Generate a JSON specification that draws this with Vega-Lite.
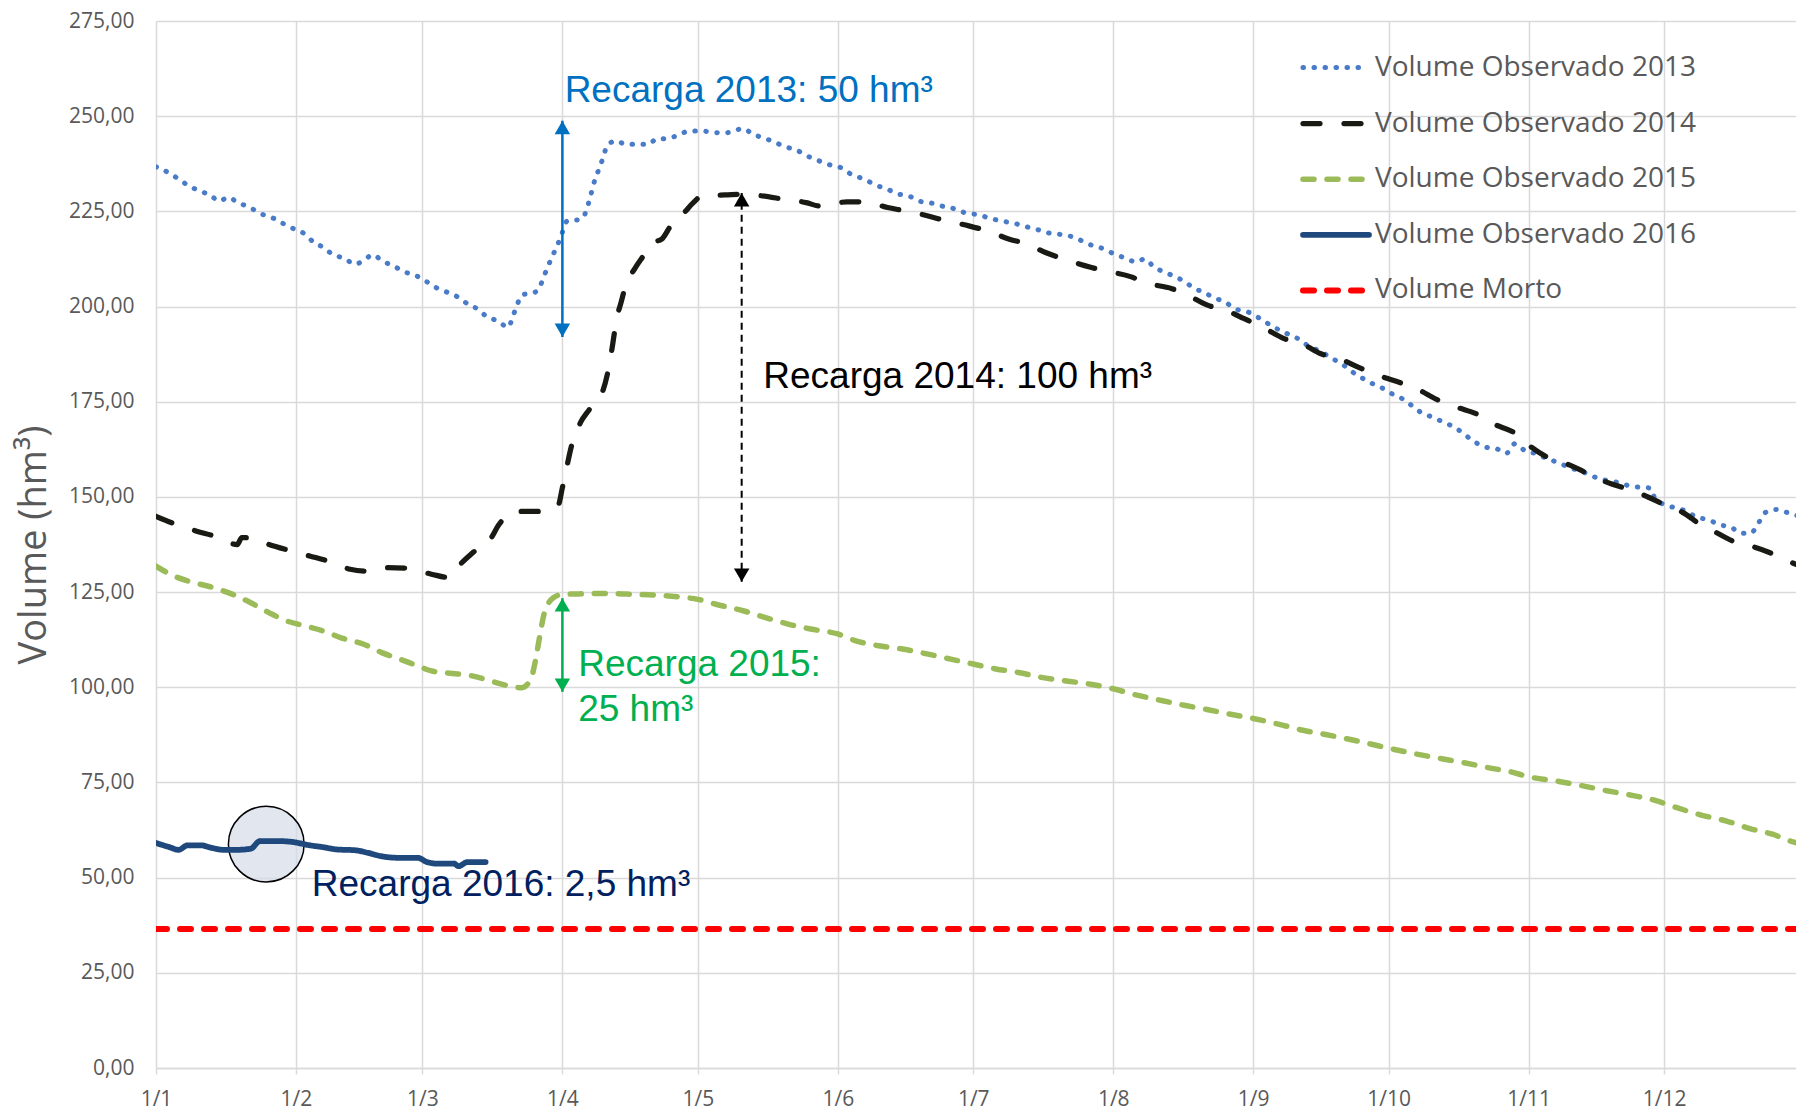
{
  "$schema": "https://vega.github.io/schema/vega-lite/v6.json",
  "width": 1640,
  "height": 1047,
  "autosize": {"type": "none"},
  "padding": {"left": 156, "top": 21, "right": 0, "bottom": 44},
  "background": "white",
  "config": {
    "view": {"stroke": null},
    "axis": {
      "gridColor": "#D9D9D9", "gridWidth": 1.5,
      "labelFont": "Open Sans", "labelFontSize": 21, "labelColor": "#595959",
      "titleFont": "Open Sans", "titleColor": "#595959", "titleFontWeight": "normal",
      "domainColor": "#D9D9D9", "domainWidth": 1.5, "tickColor": "#D9D9D9", "tickWidth": 1.5
    }
  },
  "datasets": {
    "series": [
      {"s":"Volume Observado 2013","d":"2015-01-01","v":236.7},
      {"s":"Volume Observado 2013","d":"2015-01-04","v":235.0},
      {"s":"Volume Observado 2013","d":"2015-01-06","v":233.5},
      {"s":"Volume Observado 2013","d":"2015-01-08","v":231.9},
      {"s":"Volume Observado 2013","d":"2015-01-11","v":230.2},
      {"s":"Volume Observado 2013","d":"2015-01-13","v":229.3},
      {"s":"Volume Observado 2013","d":"2015-01-15","v":227.7},
      {"s":"Volume Observado 2013","d":"2015-01-17","v":228.7},
      {"s":"Volume Observado 2013","d":"2015-01-19","v":227.4},
      {"s":"Volume Observado 2013","d":"2015-01-22","v":225.9},
      {"s":"Volume Observado 2013","d":"2015-01-24","v":224.5},
      {"s":"Volume Observado 2013","d":"2015-01-27","v":223.2},
      {"s":"Volume Observado 2013","d":"2015-01-29","v":221.9},
      {"s":"Volume Observado 2013","d":"2015-01-31","v":220.7},
      {"s":"Volume Observado 2013","d":"2015-02-03","v":219.0},
      {"s":"Volume Observado 2013","d":"2015-02-05","v":216.8},
      {"s":"Volume Observado 2013","d":"2015-02-07","v":215.6},
      {"s":"Volume Observado 2013","d":"2015-02-09","v":213.8},
      {"s":"Volume Observado 2013","d":"2015-02-12","v":212.5},
      {"s":"Volume Observado 2013","d":"2015-02-14","v":211.1},
      {"s":"Volume Observado 2013","d":"2015-02-16","v":212.1},
      {"s":"Volume Observado 2013","d":"2015-02-18","v":213.6},
      {"s":"Volume Observado 2013","d":"2015-02-20","v":212.1},
      {"s":"Volume Observado 2013","d":"2015-02-23","v":210.4},
      {"s":"Volume Observado 2013","d":"2015-02-25","v":209.1},
      {"s":"Volume Observado 2013","d":"2015-02-27","v":208.4},
      {"s":"Volume Observado 2013","d":"2015-03-02","v":206.5},
      {"s":"Volume Observado 2013","d":"2015-03-04","v":205.0},
      {"s":"Volume Observado 2013","d":"2015-03-06","v":204.0},
      {"s":"Volume Observado 2013","d":"2015-03-09","v":202.4},
      {"s":"Volume Observado 2013","d":"2015-03-11","v":200.7},
      {"s":"Volume Observado 2013","d":"2015-03-13","v":199.5},
      {"s":"Volume Observado 2013","d":"2015-03-15","v":197.6},
      {"s":"Volume Observado 2013","d":"2015-03-18","v":196.0},
      {"s":"Volume Observado 2013","d":"2015-03-20","v":194.5},
      {"s":"Volume Observado 2013","d":"2015-03-21","v":197.3},
      {"s":"Volume Observado 2013","d":"2015-03-22","v":200.5},
      {"s":"Volume Observado 2013","d":"2015-03-23","v":203.0},
      {"s":"Volume Observado 2013","d":"2015-03-26","v":203.8},
      {"s":"Volume Observado 2013","d":"2015-03-27","v":205.2},
      {"s":"Volume Observado 2013","d":"2015-03-28","v":208.2},
      {"s":"Volume Observado 2013","d":"2015-03-29","v":211.1},
      {"s":"Volume Observado 2013","d":"2015-03-30","v":213.8},
      {"s":"Volume Observado 2013","d":"2015-03-31","v":216.4},
      {"s":"Volume Observado 2013","d":"2015-04-01","v":219.5},
      {"s":"Volume Observado 2013","d":"2015-04-02","v":222.4},
      {"s":"Volume Observado 2013","d":"2015-04-05","v":222.9},
      {"s":"Volume Observado 2013","d":"2015-04-06","v":224.3},
      {"s":"Volume Observado 2013","d":"2015-04-07","v":228.0},
      {"s":"Volume Observado 2013","d":"2015-04-08","v":232.5},
      {"s":"Volume Observado 2013","d":"2015-04-09","v":235.8},
      {"s":"Volume Observado 2013","d":"2015-04-10","v":239.0},
      {"s":"Volume Observado 2013","d":"2015-04-11","v":242.5},
      {"s":"Volume Observado 2013","d":"2015-04-13","v":243.5},
      {"s":"Volume Observado 2013","d":"2015-04-15","v":242.6},
      {"s":"Volume Observado 2013","d":"2015-04-18","v":242.6},
      {"s":"Volume Observado 2013","d":"2015-04-20","v":242.6},
      {"s":"Volume Observado 2013","d":"2015-04-22","v":244.1},
      {"s":"Volume Observado 2013","d":"2015-04-24","v":244.1},
      {"s":"Volume Observado 2013","d":"2015-04-27","v":245.2},
      {"s":"Volume Observado 2013","d":"2015-04-29","v":246.1},
      {"s":"Volume Observado 2013","d":"2015-05-02","v":246.1},
      {"s":"Volume Observado 2013","d":"2015-05-04","v":245.8},
      {"s":"Volume Observado 2013","d":"2015-05-07","v":245.6},
      {"s":"Volume Observado 2013","d":"2015-05-09","v":246.1},
      {"s":"Volume Observado 2013","d":"2015-05-11","v":246.8},
      {"s":"Volume Observado 2013","d":"2015-05-13","v":245.4},
      {"s":"Volume Observado 2013","d":"2015-05-16","v":244.1},
      {"s":"Volume Observado 2013","d":"2015-05-18","v":243.2},
      {"s":"Volume Observado 2013","d":"2015-05-20","v":242.1},
      {"s":"Volume Observado 2013","d":"2015-05-23","v":241.0},
      {"s":"Volume Observado 2013","d":"2015-05-25","v":239.7},
      {"s":"Volume Observado 2013","d":"2015-05-28","v":238.2},
      {"s":"Volume Observado 2013","d":"2015-05-30","v":237.3},
      {"s":"Volume Observado 2013","d":"2015-06-02","v":236.3},
      {"s":"Volume Observado 2013","d":"2015-06-04","v":234.7},
      {"s":"Volume Observado 2013","d":"2015-06-07","v":233.4},
      {"s":"Volume Observado 2013","d":"2015-06-09","v":232.1},
      {"s":"Volume Observado 2013","d":"2015-06-12","v":230.8},
      {"s":"Volume Observado 2013","d":"2015-06-14","v":229.7},
      {"s":"Volume Observado 2013","d":"2015-06-17","v":228.9},
      {"s":"Volume Observado 2013","d":"2015-06-19","v":227.7},
      {"s":"Volume Observado 2013","d":"2015-06-22","v":227.1},
      {"s":"Volume Observado 2013","d":"2015-06-24","v":226.4},
      {"s":"Volume Observado 2013","d":"2015-06-27","v":225.6},
      {"s":"Volume Observado 2013","d":"2015-06-29","v":224.7},
      {"s":"Volume Observado 2013","d":"2015-07-02","v":224.1},
      {"s":"Volume Observado 2013","d":"2015-07-05","v":223.1},
      {"s":"Volume Observado 2013","d":"2015-07-07","v":222.5},
      {"s":"Volume Observado 2013","d":"2015-07-10","v":221.9},
      {"s":"Volume Observado 2013","d":"2015-07-12","v":221.2},
      {"s":"Volume Observado 2013","d":"2015-07-15","v":220.3},
      {"s":"Volume Observado 2013","d":"2015-07-17","v":219.5},
      {"s":"Volume Observado 2013","d":"2015-07-20","v":219.0},
      {"s":"Volume Observado 2013","d":"2015-07-23","v":218.3},
      {"s":"Volume Observado 2013","d":"2015-07-25","v":217.3},
      {"s":"Volume Observado 2013","d":"2015-07-27","v":216.2},
      {"s":"Volume Observado 2013","d":"2015-07-30","v":215.1},
      {"s":"Volume Observado 2013","d":"2015-08-01","v":213.9},
      {"s":"Volume Observado 2013","d":"2015-08-04","v":212.6},
      {"s":"Volume Observado 2013","d":"2015-08-06","v":211.7},
      {"s":"Volume Observado 2013","d":"2015-08-08","v":212.5},
      {"s":"Volume Observado 2013","d":"2015-08-10","v":210.4},
      {"s":"Volume Observado 2013","d":"2015-08-12","v":209.2},
      {"s":"Volume Observado 2013","d":"2015-08-15","v":207.7},
      {"s":"Volume Observado 2013","d":"2015-08-17","v":206.4},
      {"s":"Volume Observado 2013","d":"2015-08-19","v":204.7},
      {"s":"Volume Observado 2013","d":"2015-08-21","v":203.8},
      {"s":"Volume Observado 2013","d":"2015-08-23","v":202.5},
      {"s":"Volume Observado 2013","d":"2015-08-26","v":201.0},
      {"s":"Volume Observado 2013","d":"2015-08-28","v":199.4},
      {"s":"Volume Observado 2013","d":"2015-08-31","v":198.5},
      {"s":"Volume Observado 2013","d":"2015-09-02","v":197.2},
      {"s":"Volume Observado 2013","d":"2015-09-04","v":195.7},
      {"s":"Volume Observado 2013","d":"2015-09-07","v":193.7},
      {"s":"Volume Observado 2013","d":"2015-09-09","v":192.6},
      {"s":"Volume Observado 2013","d":"2015-09-11","v":191.5},
      {"s":"Volume Observado 2013","d":"2015-09-13","v":189.8},
      {"s":"Volume Observado 2013","d":"2015-09-16","v":188.1},
      {"s":"Volume Observado 2013","d":"2015-09-18","v":186.7},
      {"s":"Volume Observado 2013","d":"2015-09-21","v":184.6},
      {"s":"Volume Observado 2013","d":"2015-09-23","v":182.8},
      {"s":"Volume Observado 2013","d":"2015-09-25","v":181.3},
      {"s":"Volume Observado 2013","d":"2015-09-27","v":180.0},
      {"s":"Volume Observado 2013","d":"2015-09-30","v":178.3},
      {"s":"Volume Observado 2013","d":"2015-10-02","v":176.9},
      {"s":"Volume Observado 2013","d":"2015-10-04","v":175.8},
      {"s":"Volume Observado 2013","d":"2015-10-06","v":174.1},
      {"s":"Volume Observado 2013","d":"2015-10-08","v":172.3},
      {"s":"Volume Observado 2013","d":"2015-10-11","v":170.8},
      {"s":"Volume Observado 2013","d":"2015-10-13","v":169.7},
      {"s":"Volume Observado 2013","d":"2015-10-16","v":168.0},
      {"s":"Volume Observado 2013","d":"2015-10-18","v":166.2},
      {"s":"Volume Observado 2013","d":"2015-10-20","v":164.5},
      {"s":"Volume Observado 2013","d":"2015-10-22","v":163.2},
      {"s":"Volume Observado 2013","d":"2015-10-25","v":162.6},
      {"s":"Volume Observado 2013","d":"2015-10-27","v":161.4},
      {"s":"Volume Observado 2013","d":"2015-10-29","v":164.0},
      {"s":"Volume Observado 2013","d":"2015-10-31","v":162.3},
      {"s":"Volume Observado 2013","d":"2015-11-03","v":161.2},
      {"s":"Volume Observado 2013","d":"2015-11-05","v":160.1},
      {"s":"Volume Observado 2013","d":"2015-11-08","v":158.8},
      {"s":"Volume Observado 2013","d":"2015-11-10","v":157.7},
      {"s":"Volume Observado 2013","d":"2015-11-13","v":156.6},
      {"s":"Volume Observado 2013","d":"2015-11-15","v":155.5},
      {"s":"Volume Observado 2013","d":"2015-11-18","v":154.4},
      {"s":"Volume Observado 2013","d":"2015-11-20","v":154.0},
      {"s":"Volume Observado 2013","d":"2015-11-23","v":153.0},
      {"s":"Volume Observado 2013","d":"2015-11-25","v":152.6},
      {"s":"Volume Observado 2013","d":"2015-11-28","v":152.3},
      {"s":"Volume Observado 2013","d":"2015-11-29","v":149.5},
      {"s":"Volume Observado 2013","d":"2015-12-01","v":148.0},
      {"s":"Volume Observado 2013","d":"2015-12-04","v":147.0},
      {"s":"Volume Observado 2013","d":"2015-12-06","v":146.2},
      {"s":"Volume Observado 2013","d":"2015-12-08","v":144.8},
      {"s":"Volume Observado 2013","d":"2015-12-11","v":143.9},
      {"s":"Volume Observado 2013","d":"2015-12-13","v":142.8},
      {"s":"Volume Observado 2013","d":"2015-12-16","v":141.9},
      {"s":"Volume Observado 2013","d":"2015-12-18","v":140.5},
      {"s":"Volume Observado 2013","d":"2015-12-20","v":140.4},
      {"s":"Volume Observado 2013","d":"2015-12-22","v":143.3},
      {"s":"Volume Observado 2013","d":"2015-12-23","v":145.6},
      {"s":"Volume Observado 2013","d":"2015-12-26","v":146.7},
      {"s":"Volume Observado 2013","d":"2015-12-28","v":146.0},
      {"s":"Volume Observado 2013","d":"2015-12-30","v":145.2},
      {"s":"Volume Observado 2013","d":"2015-12-31","v":145.0},

      {"s":"Volume Observado 2014","d":"2015-01-01","v":144.9},
      {"s":"Volume Observado 2014","d":"2015-01-05","v":143.0},
      {"s":"Volume Observado 2014","d":"2015-01-10","v":141.0},
      {"s":"Volume Observado 2014","d":"2015-01-14","v":139.7},
      {"s":"Volume Observado 2014","d":"2015-01-19","v":137.5},
      {"s":"Volume Observado 2014","d":"2015-01-20","v":139.3},
      {"s":"Volume Observado 2014","d":"2015-01-22","v":139.3},
      {"s":"Volume Observado 2014","d":"2015-01-26","v":137.5},
      {"s":"Volume Observado 2014","d":"2015-01-31","v":135.8},
      {"s":"Volume Observado 2014","d":"2015-02-04","v":134.5},
      {"s":"Volume Observado 2014","d":"2015-02-08","v":133.2},
      {"s":"Volume Observado 2014","d":"2015-02-13","v":131.0},
      {"s":"Volume Observado 2014","d":"2015-02-17","v":130.5},
      {"s":"Volume Observado 2014","d":"2015-02-21","v":131.4},
      {"s":"Volume Observado 2014","d":"2015-02-26","v":131.2},
      {"s":"Volume Observado 2014","d":"2015-03-03","v":129.7},
      {"s":"Volume Observado 2014","d":"2015-03-07","v":128.8},
      {"s":"Volume Observado 2014","d":"2015-03-09","v":131.8},
      {"s":"Volume Observado 2014","d":"2015-03-12","v":135.2},
      {"s":"Volume Observado 2014","d":"2015-03-16","v":138.8},
      {"s":"Volume Observado 2014","d":"2015-03-18","v":142.8},
      {"s":"Volume Observado 2014","d":"2015-03-22","v":146.2},
      {"s":"Volume Observado 2014","d":"2015-03-27","v":146.2},
      {"s":"Volume Observado 2014","d":"2015-03-31","v":147.6},
      {"s":"Volume Observado 2014","d":"2015-04-01","v":152.4},
      {"s":"Volume Observado 2014","d":"2015-04-02","v":158.0},
      {"s":"Volume Observado 2014","d":"2015-04-03","v":163.3},
      {"s":"Volume Observado 2014","d":"2015-04-05","v":169.5},
      {"s":"Volume Observado 2014","d":"2015-04-07","v":173.0},
      {"s":"Volume Observado 2014","d":"2015-04-10","v":178.0},
      {"s":"Volume Observado 2014","d":"2015-04-11","v":182.4},
      {"s":"Volume Observado 2014","d":"2015-04-12","v":189.0},
      {"s":"Volume Observado 2014","d":"2015-04-13","v":196.7},
      {"s":"Volume Observado 2014","d":"2015-04-14","v":201.1},
      {"s":"Volume Observado 2014","d":"2015-04-15","v":205.5},
      {"s":"Volume Observado 2014","d":"2015-04-17","v":209.9},
      {"s":"Volume Observado 2014","d":"2015-04-19","v":213.4},
      {"s":"Volume Observado 2014","d":"2015-04-21","v":216.8},
      {"s":"Volume Observado 2014","d":"2015-04-23","v":217.7},
      {"s":"Volume Observado 2014","d":"2015-04-25","v":221.2},
      {"s":"Volume Observado 2014","d":"2015-04-28","v":224.7},
      {"s":"Volume Observado 2014","d":"2015-04-30","v":227.3},
      {"s":"Volume Observado 2014","d":"2015-05-02","v":229.1},
      {"s":"Volume Observado 2014","d":"2015-05-07","v":229.3},
      {"s":"Volume Observado 2014","d":"2015-05-11","v":229.5},
      {"s":"Volume Observado 2014","d":"2015-05-15","v":229.1},
      {"s":"Volume Observado 2014","d":"2015-05-20","v":228.2},
      {"s":"Volume Observado 2014","d":"2015-05-25","v":227.3},
      {"s":"Volume Observado 2014","d":"2015-05-28","v":226.4},
      {"s":"Volume Observado 2014","d":"2015-06-03","v":227.5},
      {"s":"Volume Observado 2014","d":"2015-06-07","v":227.5},
      {"s":"Volume Observado 2014","d":"2015-06-12","v":226.0},
      {"s":"Volume Observado 2014","d":"2015-06-16","v":225.1},
      {"s":"Volume Observado 2014","d":"2015-06-21","v":223.8},
      {"s":"Volume Observado 2014","d":"2015-06-25","v":222.5},
      {"s":"Volume Observado 2014","d":"2015-06-30","v":221.2},
      {"s":"Volume Observado 2014","d":"2015-07-04","v":219.9},
      {"s":"Volume Observado 2014","d":"2015-07-09","v":217.7},
      {"s":"Volume Observado 2014","d":"2015-07-13","v":216.4},
      {"s":"Volume Observado 2014","d":"2015-07-17","v":214.2},
      {"s":"Volume Observado 2014","d":"2015-07-21","v":212.5},
      {"s":"Volume Observado 2014","d":"2015-07-27","v":210.3},
      {"s":"Volume Observado 2014","d":"2015-07-30","v":209.4},
      {"s":"Volume Observado 2014","d":"2015-08-05","v":207.8},
      {"s":"Volume Observado 2014","d":"2015-08-08","v":206.3},
      {"s":"Volume Observado 2014","d":"2015-08-14","v":204.7},
      {"s":"Volume Observado 2014","d":"2015-08-17","v":203.3},
      {"s":"Volume Observado 2014","d":"2015-08-22","v":200.3},
      {"s":"Volume Observado 2014","d":"2015-08-26","v":199.0},
      {"s":"Volume Observado 2014","d":"2015-08-30","v":196.8},
      {"s":"Volume Observado 2014","d":"2015-09-03","v":194.6},
      {"s":"Volume Observado 2014","d":"2015-09-08","v":191.5},
      {"s":"Volume Observado 2014","d":"2015-09-12","v":190.1},
      {"s":"Volume Observado 2014","d":"2015-09-16","v":187.6},
      {"s":"Volume Observado 2014","d":"2015-09-20","v":186.3},
      {"s":"Volume Observado 2014","d":"2015-09-25","v":183.7},
      {"s":"Volume Observado 2014","d":"2015-09-29","v":181.8},
      {"s":"Volume Observado 2014","d":"2015-10-04","v":179.8},
      {"s":"Volume Observado 2014","d":"2015-10-07","v":178.5},
      {"s":"Volume Observado 2014","d":"2015-10-12","v":175.4},
      {"s":"Volume Observado 2014","d":"2015-10-16","v":173.6},
      {"s":"Volume Observado 2014","d":"2015-10-21","v":171.5},
      {"s":"Volume Observado 2014","d":"2015-10-24","v":169.3},
      {"s":"Volume Observado 2014","d":"2015-10-29","v":166.7},
      {"s":"Volume Observado 2014","d":"2015-11-01","v":163.6},
      {"s":"Volume Observado 2014","d":"2015-11-05","v":160.5},
      {"s":"Volume Observado 2014","d":"2015-11-10","v":158.4},
      {"s":"Volume Observado 2014","d":"2015-11-14","v":156.2},
      {"s":"Volume Observado 2014","d":"2015-11-18","v":154.0},
      {"s":"Volume Observado 2014","d":"2015-11-23","v":152.0},
      {"s":"Volume Observado 2014","d":"2015-11-26","v":150.7},
      {"s":"Volume Observado 2014","d":"2015-12-01","v":148.0},
      {"s":"Volume Observado 2014","d":"2015-12-05","v":146.0},
      {"s":"Volume Observado 2014","d":"2015-12-09","v":142.8},
      {"s":"Volume Observado 2014","d":"2015-12-12","v":141.0},
      {"s":"Volume Observado 2014","d":"2015-12-17","v":138.0},
      {"s":"Volume Observado 2014","d":"2015-12-21","v":136.8},
      {"s":"Volume Observado 2014","d":"2015-12-26","v":134.6},
      {"s":"Volume Observado 2014","d":"2015-12-30","v":132.4},
      {"s":"Volume Observado 2014","d":"2015-12-31","v":132.0},

      {"s":"Volume Observado 2015","d":"2015-01-01","v":131.8},
      {"s":"Volume Observado 2015","d":"2015-01-05","v":129.2},
      {"s":"Volume Observado 2015","d":"2015-01-09","v":127.6},
      {"s":"Volume Observado 2015","d":"2015-01-13","v":126.4},
      {"s":"Volume Observado 2015","d":"2015-01-18","v":124.4},
      {"s":"Volume Observado 2015","d":"2015-01-22","v":122.2},
      {"s":"Volume Observado 2015","d":"2015-01-26","v":119.6},
      {"s":"Volume Observado 2015","d":"2015-01-30","v":117.4},
      {"s":"Volume Observado 2015","d":"2015-02-03","v":116.1},
      {"s":"Volume Observado 2015","d":"2015-02-07","v":114.8},
      {"s":"Volume Observado 2015","d":"2015-02-11","v":113.0},
      {"s":"Volume Observado 2015","d":"2015-02-16","v":111.3},
      {"s":"Volume Observado 2015","d":"2015-02-20","v":109.1},
      {"s":"Volume Observado 2015","d":"2015-02-24","v":107.4},
      {"s":"Volume Observado 2015","d":"2015-02-28","v":105.6},
      {"s":"Volume Observado 2015","d":"2015-03-03","v":104.3},
      {"s":"Volume Observado 2015","d":"2015-03-07","v":103.7},
      {"s":"Volume Observado 2015","d":"2015-03-12","v":103.0},
      {"s":"Volume Observado 2015","d":"2015-03-16","v":101.7},
      {"s":"Volume Observado 2015","d":"2015-03-20","v":100.4},
      {"s":"Volume Observado 2015","d":"2015-03-23","v":99.9},
      {"s":"Volume Observado 2015","d":"2015-03-25","v":102.1},
      {"s":"Volume Observado 2015","d":"2015-03-26","v":106.8},
      {"s":"Volume Observado 2015","d":"2015-03-27","v":113.5},
      {"s":"Volume Observado 2015","d":"2015-03-28","v":119.5},
      {"s":"Volume Observado 2015","d":"2015-03-30","v":123.5},
      {"s":"Volume Observado 2015","d":"2015-04-01","v":124.4},
      {"s":"Volume Observado 2015","d":"2015-04-04","v":124.5},
      {"s":"Volume Observado 2015","d":"2015-04-08","v":124.6},
      {"s":"Volume Observado 2015","d":"2015-04-12","v":124.6},
      {"s":"Volume Observado 2015","d":"2015-04-17","v":124.4},
      {"s":"Volume Observado 2015","d":"2015-04-22","v":124.2},
      {"s":"Volume Observado 2015","d":"2015-04-27","v":123.7},
      {"s":"Volume Observado 2015","d":"2015-05-01","v":123.1},
      {"s":"Volume Observado 2015","d":"2015-05-05","v":121.8},
      {"s":"Volume Observado 2015","d":"2015-05-11","v":120.1},
      {"s":"Volume Observado 2015","d":"2015-05-16","v":118.3},
      {"s":"Volume Observado 2015","d":"2015-05-21","v":116.6},
      {"s":"Volume Observado 2015","d":"2015-05-26","v":115.3},
      {"s":"Volume Observado 2015","d":"2015-06-01","v":114.0},
      {"s":"Volume Observado 2015","d":"2015-06-05","v":112.2},
      {"s":"Volume Observado 2015","d":"2015-06-10","v":110.9},
      {"s":"Volume Observado 2015","d":"2015-06-15","v":110.1},
      {"s":"Volume Observado 2015","d":"2015-06-21","v":108.7},
      {"s":"Volume Observado 2015","d":"2015-06-26","v":107.4},
      {"s":"Volume Observado 2015","d":"2015-07-01","v":106.1},
      {"s":"Volume Observado 2015","d":"2015-07-06","v":104.8},
      {"s":"Volume Observado 2015","d":"2015-07-11","v":103.9},
      {"s":"Volume Observado 2015","d":"2015-07-16","v":102.6},
      {"s":"Volume Observado 2015","d":"2015-07-22","v":101.6},
      {"s":"Volume Observado 2015","d":"2015-07-27","v":100.8},
      {"s":"Volume Observado 2015","d":"2015-08-01","v":99.6},
      {"s":"Volume Observado 2015","d":"2015-08-06","v":98.0},
      {"s":"Volume Observado 2015","d":"2015-08-11","v":96.7},
      {"s":"Volume Observado 2015","d":"2015-08-17","v":95.2},
      {"s":"Volume Observado 2015","d":"2015-08-22","v":94.1},
      {"s":"Volume Observado 2015","d":"2015-08-27","v":92.9},
      {"s":"Volume Observado 2015","d":"2015-09-01","v":91.8},
      {"s":"Volume Observado 2015","d":"2015-09-07","v":90.2},
      {"s":"Volume Observado 2015","d":"2015-09-12","v":88.7},
      {"s":"Volume Observado 2015","d":"2015-09-17","v":87.6},
      {"s":"Volume Observado 2015","d":"2015-09-22","v":86.4},
      {"s":"Volume Observado 2015","d":"2015-09-27","v":85.1},
      {"s":"Volume Observado 2015","d":"2015-10-01","v":84.0},
      {"s":"Volume Observado 2015","d":"2015-10-07","v":82.5},
      {"s":"Volume Observado 2015","d":"2015-10-12","v":81.4},
      {"s":"Volume Observado 2015","d":"2015-10-18","v":80.1},
      {"s":"Volume Observado 2015","d":"2015-10-23","v":78.9},
      {"s":"Volume Observado 2015","d":"2015-10-28","v":77.8},
      {"s":"Volume Observado 2015","d":"2015-11-01","v":76.5},
      {"s":"Volume Observado 2015","d":"2015-11-08","v":75.2},
      {"s":"Volume Observado 2015","d":"2015-11-13","v":74.1},
      {"s":"Volume Observado 2015","d":"2015-11-18","v":72.9},
      {"s":"Volume Observado 2015","d":"2015-11-23","v":71.8},
      {"s":"Volume Observado 2015","d":"2015-11-29","v":70.3},
      {"s":"Volume Observado 2015","d":"2015-12-04","v":68.3},
      {"s":"Volume Observado 2015","d":"2015-12-09","v":66.5},
      {"s":"Volume Observado 2015","d":"2015-12-15","v":64.8},
      {"s":"Volume Observado 2015","d":"2015-12-20","v":62.9},
      {"s":"Volume Observado 2015","d":"2015-12-25","v":61.4},
      {"s":"Volume Observado 2015","d":"2015-12-29","v":59.6},
      {"s":"Volume Observado 2015","d":"2015-12-31","v":58.9},

      {"s":"Volume Observado 2016","d":"2015-01-01","v":59.1},
      {"s":"Volume Observado 2016","d":"2015-01-04","v":58.0},
      {"s":"Volume Observado 2016","d":"2015-01-06","v":57.3},
      {"s":"Volume Observado 2016","d":"2015-01-08","v":58.5},
      {"s":"Volume Observado 2016","d":"2015-01-11","v":58.5},
      {"s":"Volume Observado 2016","d":"2015-01-13","v":57.9},
      {"s":"Volume Observado 2016","d":"2015-01-16","v":57.3},
      {"s":"Volume Observado 2016","d":"2015-01-19","v":57.3},
      {"s":"Volume Observado 2016","d":"2015-01-22","v":57.6},
      {"s":"Volume Observado 2016","d":"2015-01-24","v":59.6},
      {"s":"Volume Observado 2016","d":"2015-01-28","v":59.6},
      {"s":"Volume Observado 2016","d":"2015-01-31","v":59.4},
      {"s":"Volume Observado 2016","d":"2015-02-04","v":58.5},
      {"s":"Volume Observado 2016","d":"2015-02-07","v":58.0},
      {"s":"Volume Observado 2016","d":"2015-02-10","v":57.4},
      {"s":"Volume Observado 2016","d":"2015-02-14","v":57.2},
      {"s":"Volume Observado 2016","d":"2015-02-17","v":56.5},
      {"s":"Volume Observado 2016","d":"2015-02-20","v":55.6},
      {"s":"Volume Observado 2016","d":"2015-02-24","v":55.2},
      {"s":"Volume Observado 2016","d":"2015-02-28","v":55.2},
      {"s":"Volume Observado 2016","d":"2015-03-02","v":54.1},
      {"s":"Volume Observado 2016","d":"2015-03-04","v":53.7},
      {"s":"Volume Observado 2016","d":"2015-03-08","v":53.7},
      {"s":"Volume Observado 2016","d":"2015-03-09","v":53.0},
      {"s":"Volume Observado 2016","d":"2015-03-11","v":54.1},
      {"s":"Volume Observado 2016","d":"2015-03-15","v":54.1},

      {"s":"Volume Morto","d":"2015-01-01","v":36.5},
      {"s":"Volume Morto","d":"2015-12-31","v":36.5}
    ],
    "arrows": [
      {"d":"2015-04-01","a":192.0,"b":248.8,"c":"#0070C0"},
      {"d":"2015-04-01","a":98.8,"b":123.4,"c":"#00B050"}
    ],
    "darrow": [
      {"d":"2015-05-10T17:00:00Z","a":127.7,"b":229.8,"c":"#000000"}
    ],
    "heads": [
      {"d":"2015-04-01","a":192.0,"b":248.8,"c":"#0070C0"},
      {"d":"2015-04-01","a":98.8,"b":123.4,"c":"#00B050"},
      {"d":"2015-05-10T17:00:00Z","a":127.7,"b":229.8,"c":"#000000"}
    ],
    "labels": [
      {"d":"2015-04-01T12:00:00Z","v":253.8,"t":"Recarga 2013: 50 hm³","c":"#0070C0"},
      {"d":"2015-05-15T12:00:00Z","v":178.5,"t":"Recarga 2014: 100 hm³","c":"#000000"},
      {"d":"2015-04-04T12:00:00Z","v":103.0,"t":"Recarga 2015:","c":"#00B050"},
      {"d":"2015-04-04T12:00:00Z","v":91.2,"t":"25 hm³","c":"#00B050"},
      {"d":"2015-02-04T12:00:00Z","v":45.3,"t":"Recarga 2016: 2,5 hm³","c":"#002060"}
    ]
  },
  "layer": [
    {
      "data": {"values": [{"d":"2015-01-25T10:00:00Z","v":58.8}]},
      "mark": {"type":"point","shape":"circle","size":5730,"filled":true,"fill":"#D6DCE8","fillOpacity":0.7,"stroke":"#000000","strokeWidth":1.5,"strokeOpacity":1,"opacity":1},
      "encoding": {
        "x": {
          "field": "d", "type": "temporal",
          "scale": {"type": "utc", "domain": [{"year":2015,"month":1,"date":1,"utc":true},{"year":2015,"month":12,"date":30,"hours":5,"utc":true}]},
          "axis": {"title": null, "format": "%-d/%-m", "tickCount": {"interval": "month", "step": 1}, "tickSize": 6, "labelPadding": 14, "grid": true, "labelFlush": false, "labelOverlap": false, "domain": true}
        },
        "y": {
          "field": "v", "type": "quantitative",
          "scale": {"domain": [0, 275], "nice": false, "zero": true},
          "axis": {"title": "Volume (hm³)", "values": [0,25,50,75,100,125,150,175,200,225,250,275], "labelExpr": "replace(format(datum.value, '.2f'), '.', ',')", "ticks": false, "domain": false, "labelPadding": 22, "titleFontSize": 38, "titlePadding": 15, "grid": true}
        }
      }
    },
    {
      "data": {"name": "series"},
      "mark": {"type": "line", "strokeCap": "round", "strokeJoin": "round", "interpolate": "monotone", "clip": true},
      "encoding": {
        "x": {"field": "d", "type": "temporal"},
        "y": {"field": "v", "type": "quantitative"},
        "color": {
          "field": "s", "type": "nominal",
          "scale": {"domain": ["Volume Observado 2013","Volume Observado 2014","Volume Observado 2015","Volume Observado 2016","Volume Morto"], "range": ["#4A7BC8","#1A1A14","#9BBB59","#1F497D","#FF0000"]},
          "legend": {"title": null, "orient": "none", "legendX": 1144, "legendY": 11, "symbolType": "stroke", "symbolSize": 4356, "symbolStrokeWidth": 5, "labelFont": "Open Sans", "labelFontSize": 28, "labelColor": "#595959", "labelOffset": 3, "labelLimit": 0, "rowPadding": 5.6, "padding": 0, "symbolLimit": 0, "encode": {"symbols": {"update": {"strokeCap": {"value": "round"}}}}}
        },
        "strokeDash": {
          "field": "s", "type": "nominal",
          "scale": {"domain": ["Volume Observado 2013","Volume Observado 2014","Volume Observado 2015","Volume Observado 2016","Volume Morto"], "range": [[0.5,10.5],[17,24],[11,13],[1,0],[11,13]]},
          "legend": {"title": null, "orient": "none", "legendX": 1144, "legendY": 11, "symbolType": "stroke", "symbolSize": 4356, "symbolStrokeWidth": 5, "labelFont": "Open Sans", "labelFontSize": 28, "labelColor": "#595959", "labelOffset": 3, "labelLimit": 0, "rowPadding": 5.6, "padding": 0, "symbolLimit": 0, "encode": {"symbols": {"update": {"strokeCap": {"value": "round"}}}}}
        },
        "strokeWidth": {
          "field": "s", "type": "nominal",
          "scale": {"domain": ["Volume Observado 2013","Volume Observado 2014","Volume Observado 2015","Volume Observado 2016","Volume Morto"], "range": [5,6,6,5,6.5]},
          "legend": null
        }
      }
    },
    {
      "data": {"name": "arrows"},
      "mark": {"type": "rule", "strokeWidth": 2.5},
      "encoding": {
        "x": {"field": "d", "type": "temporal"},
        "y": {"field": "a", "type": "quantitative"},
        "y2": {"field": "b"},
        "color": {"field": "c", "type": "nominal", "scale": null}
      }
    },
    {
      "data": {"name": "darrow"},
      "mark": {"type": "rule", "strokeWidth": 2, "strokeDash": [7, 5]},
      "encoding": {
        "x": {"field": "d", "type": "temporal"},
        "y": {"field": "a", "type": "quantitative"},
        "y2": {"field": "b"},
        "color": {"field": "c", "type": "nominal", "scale": null}
      }
    },
    {
      "data": {"name": "heads"},
      "mark": {"type": "point", "shape": "triangle-up", "filled": true, "size": 240, "opacity": 1, "yOffset": 6.7},
      "encoding": {
        "x": {"field": "d", "type": "temporal"},
        "y": {"field": "b", "type": "quantitative"},
        "color": {"field": "c", "type": "nominal", "scale": null}
      }
    },
    {
      "data": {"name": "heads"},
      "mark": {"type": "point", "shape": "triangle-down", "filled": true, "size": 240, "opacity": 1, "yOffset": -6.7},
      "encoding": {
        "x": {"field": "d", "type": "temporal"},
        "y": {"field": "a", "type": "quantitative"},
        "color": {"field": "c", "type": "nominal", "scale": null}
      }
    },
    {
      "data": {"name": "labels"},
      "mark": {"type": "text", "align": "left", "baseline": "alphabetic", "font": "Liberation Sans", "fontSize": 37},
      "encoding": {
        "x": {"field": "d", "type": "temporal"},
        "y": {"field": "v", "type": "quantitative"},
        "text": {"field": "t"},
        "color": {"field": "c", "type": "nominal", "scale": null}
      }
    }
  ]
}
